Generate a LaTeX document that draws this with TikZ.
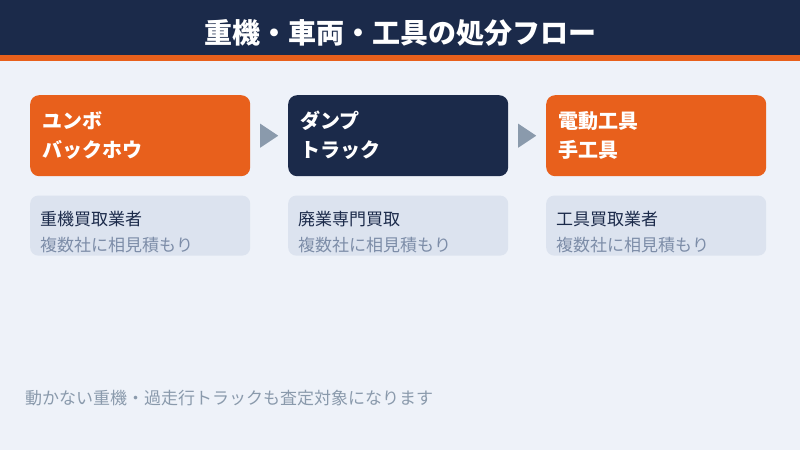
\documentclass[tikz,border=0pt]{standalone}
\usepackage{fontspec}
\setmainfont{Noto Sans CJK JP}
\usepackage{tikz}
\usetikzlibrary{calc,positioning}
\definecolor{navy}{HTML}{1B2A4A}
\definecolor{brand}{HTML}{E8601C}
\definecolor{paper}{HTML}{EEF2F9}
\definecolor{pale}{HTML}{DCE3EF}
\definecolor{slate}{HTML}{8A9AAC}
\definecolor{mute}{HTML}{7D8DA8}

\begin{document}
\begin{tikzpicture}[x=1pt,y=-1pt,
  card/.style={rounded corners=9pt,minimum width=220pt,minimum height=81pt,
    text width=196pt,inner xsep=12pt,align=left,anchor=north west,text=white,
    font=\fontsize{20}{29}\selectfont\bfseries},
  note/.style={fill=pale,rounded corners=8pt,minimum width=220pt,minimum height=60pt,
    anchor=north west,inner sep=0pt},
  head/.style={anchor=west,text=navy,font=\fontsize{17}{20}\selectfont,inner sep=0pt},
  sub/.style={anchor=west,text=mute,font=\fontsize{17}{20}\selectfont,inner sep=0pt},
  tri/.style={fill=slate}]
  \path[use as bounding box,fill=paper] (0,0) rectangle (800,450);
  % kopf
  \fill[navy] (0,0) rectangle (800,55);
  \fill[brand] (0,55) rectangle (800,61);
  \node[text=white,font=\fontsize{28}{32}\selectfont\bfseries] (title) at (400,33) {重機・車両・工具の処分フロー};
  % karten
  \node[card,fill=brand] (k1) at (30,95) {ユンボ\\バックホウ};
  \node[card,fill=navy] (k2) at (288,95) {ダンプ\\トラック};
  \node[card,fill=brand] (k3) at (546,95) {電動工具\\手工具};
  % pfeile
  \foreach \a/\b in {k1/k2,k2/k3}{
    \coordinate (m) at ($(\a.east)!0.5!(\b.west)$);
    \fill[tri] ($(m)+(-9,-12)$) -- ($(m)+(9,0)$) -- ($(m)+(-9,12)$) -- cycle;
  }
  % hinweise
  \foreach \k/\t in {1/重機買取業者,2/廃業専門買取,3/工具買取業者}{
    \node[note] (n\k) at ($(k\k.south west)+(0,19)$) {};
    \node[head] (h\k) at ($(n\k.north west)+(10,24)$) {\t};
    \node[sub] (s\k) at ($(n\k.north west)+(10,50)$) {複数社に相見積もり};
  }
  \node[anchor=west,inner sep=0pt,text=slate,font=\fontsize{17}{20}\selectfont] (foot) at (25,398)
    {動かない重機・過走行トラックも査定対象になります};
\end{tikzpicture}
\end{document}
